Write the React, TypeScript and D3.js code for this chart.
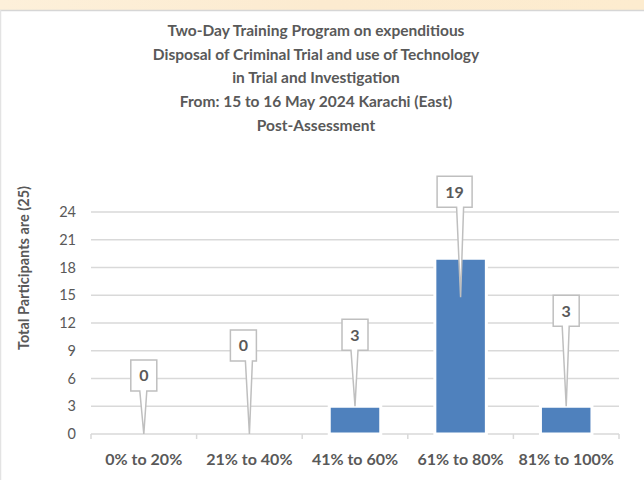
import * as d3 from "d3";

const categories = ["0% to 20%", "21% to 40%", "41% to 60%", "61% to 80%", "81% to 100%"];
const participants = [0, 0, 3, 19, 3];
const yTicks = [0, 3, 6, 9, 12, 15, 18, 21, 24];
const titleLines = [
  "Two-Day Training Program on expenditious",
  "Disposal of Criminal Trial and use of Technology",
  "in Trial and Investigation",
  "From: 15 to 16 May 2024 Karachi (East)",
  "Post-Assessment",
];
const yAxisTitle = "Total Participants are (25)";

// callout placement, as Excel left them (pixels)
const calloutLift = [43, 73, 56, 51, 80];
const calloutShift = [0, -6, 0, -6, 0];
const tipInset = [0, 0, 0, 39, 0];

const W = 644;
const H = 480;
const plot = { left: 91, right: 619, top: 212, bottom: 434 };
const textColor = "#595959";
const gridColor = "#d9d9d9";
const font = "Lato, 'Open Sans', sans-serif";

export default function App() {
  const x = d3
    .scaleBand<string>()
    .domain(categories)
    .range([plot.left, plot.right])
    .paddingInner(0)
    .paddingOuter(0);
  const y = d3.scaleLinear().domain([0, 24]).range([plot.bottom, plot.top]);
  const barW = x.bandwidth() / 2.05;

  return (
    <div style={{ position: "fixed", left: 0, top: 0, width: W, height: H }}>
      <svg width={W} height={H} style={{ display: "block" }}>
        <defs>
          <linearGradient id="strip" x1="0" x2="1" y1="0" y2="0">
            <stop offset="0" stopColor="#fdf0da" />
            <stop offset="0.5" stopColor="#fcebd0" />
            <stop offset="1" stopColor="#fdeccf" />
          </linearGradient>
        </defs>
        <rect x={0} y={0} width={W} height={H} fill="#ffffff" />
        <rect x={0} y={0} width={W} height={10} fill="url(#strip)" />
        <line x1={0} x2={W} y1={10.5} y2={10.5} stroke="#d6d6d6" strokeWidth={1.5} />
        <line x1={0.5} x2={0.5} y1={10} y2={H} stroke="#e3e3e3" strokeWidth={1.5} />

        <g fontFamily={font} fontWeight="bold" fontSize={15.5} fill={textColor} textAnchor="middle">
          {titleLines.map((t, i) => (
            <text key={i} x={316} y={36 + i * 23.7}>
              {t}
            </text>
          ))}
        </g>

        <text
          transform={`translate(29, 268) rotate(-90)`}
          textAnchor="middle"
          fontFamily={font}
          fontWeight="bold"
          fontSize={14.5}
          fill={textColor}
        >
          {yAxisTitle}
        </text>

        {yTicks.map((t) => (
          <g key={t}>
            <line
              x1={plot.left}
              x2={plot.right}
              y1={y(t)}
              y2={y(t)}
              stroke={gridColor}
              strokeWidth={1.5}
            />
            <text
              x={76}
              y={y(t)}
              dy="0.35em"
              textAnchor="end"
              fontFamily={font}
              fontSize={14.5}
              fill={textColor}
            >
              {t}
            </text>
          </g>
        ))}

        {categories.map((c, i) => (
          <line
            key={"tk" + i}
            x1={x(c)!}
            x2={x(c)!}
            y1={plot.bottom}
            y2={plot.bottom + 5}
            stroke={gridColor}
            strokeWidth={1.5}
          />
        ))}
        <line
          x1={plot.right}
          x2={plot.right}
          y1={plot.bottom}
          y2={plot.bottom + 5}
          stroke={gridColor}
          strokeWidth={1.5}
        />

        {categories.map((c, i) => {
          const v = participants[i];
          if (v <= 0) return null;
          const cx = x(c)! + x.bandwidth() / 2;
          return (
            <rect
              key={"b" + i}
              x={cx - barW / 2}
              y={y(v)}
              width={barW}
              height={plot.bottom - y(v)}
              fill="#4f81bd"
              stroke="#ffffff"
              strokeWidth={3}
            />
          );
        })}

        {categories.map((c, i) => (
          <text
            key={"xl" + i}
            x={x(c)! + x.bandwidth() / 2}
            y={465}
            textAnchor="middle"
            fontFamily={font}
            fontWeight="bold"
            fontSize={16}
            fill={textColor}
          >
            {c}
          </text>
        ))}

        {categories.map((c, i) => {
          const v = participants[i];
          const label = String(v);
          const bw = label.length > 1 ? 35 : 26;
          const bh = 31;
          const tipX = x(c)! + x.bandwidth() / 2;
          const tipY = y(v) + tipInset[i];
          const bottom = y(v) - calloutLift[i];
          const top = bottom - bh;
          const bx = tipX + calloutShift[i] - bw / 2;
          const wl = Math.max(bx + 3, tipX - 4);
          const wr = Math.min(bx + bw - 3, tipX + 3);
          const p = d3.path();
          p.moveTo(bx, top);
          p.lineTo(bx + bw, top);
          p.lineTo(bx + bw, bottom);
          p.lineTo(wr, bottom);
          p.lineTo(tipX, tipY);
          p.lineTo(wl, bottom);
          p.lineTo(bx, bottom);
          p.closePath();
          return (
            <g key={"cl" + i}>
              <path d={p.toString()} fill="#ffffff" stroke="#bfbfbf" strokeWidth={1.5} />
              <text
                x={bx + bw / 2}
                y={top + bh / 2}
                dy="0.36em"
                textAnchor="middle"
                fontFamily={font}
                fontWeight="bold"
                fontSize={16}
                fill={textColor}
              >
                {label}
              </text>
            </g>
          );
        })}
      </svg>
    </div>
  );
}
